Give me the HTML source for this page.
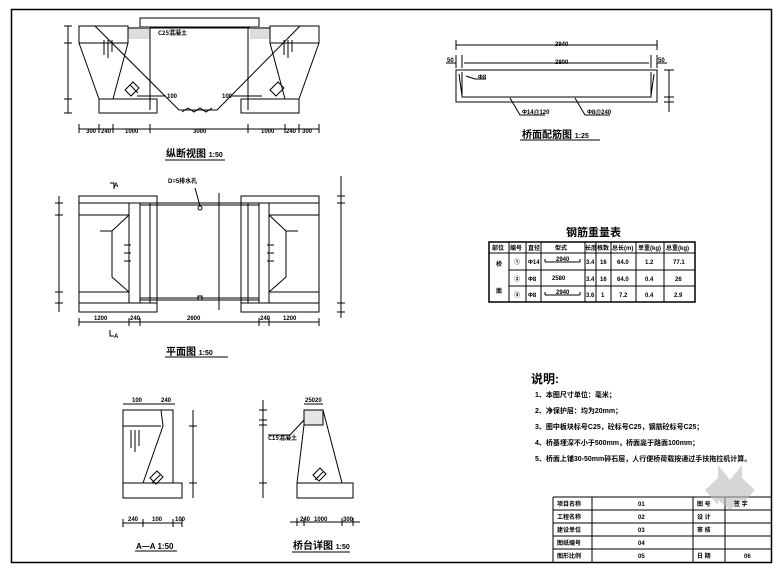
<!DOCTYPE html>
<html><head><meta charset="utf-8"><style>
html,body{margin:0;padding:0;background:#fff;}
svg{display:block;}
text{font-family:"Liberation Sans","Noto Sans CJK SC",sans-serif;font-weight:bold;fill:#000;}
.c{font-family:"Noto Sans CJK SC","WenQuanYi Zen Hei",sans-serif;}
</style></head><body>
<svg width="780" height="572" viewBox="0 0 780 572" xmlns="http://www.w3.org/2000/svg">
<g fill="none" stroke="#000" stroke-width="1">
<!-- frame -->
<rect x="11.5" y="9.5" width="760" height="553" stroke-width="1.5"/>

<!-- ===== Elevation ===== -->
<rect x="140" y="18" width="119" height="9"/>
<rect x="128" y="27" width="22" height="12" fill="#ddd" stroke="none"/>
<rect x="250" y="27" width="20" height="12" fill="#ddd" stroke="none"/>
<line x1="128" y1="28" x2="270" y2="28"/>
<path d="M79,26 H128 V43 H79 Z M79,43 L99,99 M128,43 L113,99 M99,99 H157 V113 H99 Z"/>
<line x1="150" y1="28" x2="150" y2="110"/>
<path d="M270,26 H319 V43 H270 Z M319,43 L299,99 M270,43 L285,99 M241,99 H299 V113 H241 Z"/>
<line x1="248" y1="28" x2="248" y2="110"/>
<path d="M95,26 L179,110 H217 L300,26"/>
<path d="M104,40 V55 M108,40 V58 M112,40 V52 M284,40 V55 M288,40 V58 M292,40 V52"/>
<path d="M182,112 l6,-4 l6,4 l6,-4 l6,4 l6,-4"/>
<path d="M125,90 l8,-8 l6,6 l-8,8z M130,85 l8,8 M270,90 l8,-8 l6,6 l-8,8z"/>
<line x1="137" y1="96" x2="166" y2="96"/>
<line x1="232" y1="96" x2="262" y2="96"/>
<line x1="68" y1="26" x2="68" y2="113"/>
<path d="M64,43 H72 M64,99 H72 M64,26 H72 M64,113 H72"/>
<line x1="79" y1="129" x2="319" y2="129"/>
<path d="M79,124 V133 M99,124 V133 M113,124 V133 M150,124 V133 M248,124 V133 M285,124 V133 M299,124 V133 M319,124 V133"/>
<line x1="165" y1="160" x2="225" y2="160"/>

<!-- ===== Plan ===== -->
<rect x="79" y="196" width="78" height="116"/>
<rect x="241" y="196" width="78" height="116"/>
<path d="M79,203 H157 M79,215 H129 M79,292 H129 M79,303 H157"/>
<path d="M241,203 H319 M269,215 H319 M269,292 H319 M241,303 H319"/>
<path d="M129,203 V303 M269,203 V303 M140,203 V303 M150,203 V303 M248,203 V303 M259,203 V303"/>
<path d="M140,203 H259 M140,300 H259 M140,205 H259 M140,298 H259"/>
<path d="M129,215 L112,231 V277 L129,292 M100,231 H112 M269,215 L286,231 V277 L269,292 M298,231 H286"/>
<path d="M124,245 H131 M124,253 H131 M124,261 H131 M267,245 H274 M267,253 H274 M267,261 H274"/>
<line x1="219" y1="193" x2="219" y2="310"/>
<rect x="198" y="296" width="4" height="4"/>
<circle cx="200" cy="208" r="2"/>
<line x1="200" y1="206" x2="195" y2="188"/>
<line x1="79" y1="322" x2="319" y2="322"/>
<path d="M79,318 V326 M129,318 V326 M140,318 V326 M259,318 V326 M269,318 V326 M319,318 V326"/>
<path d="M110,183 H114 V189 M110,330 V336 H114"/>
<line x1="59" y1="196" x2="59" y2="312"/>
<path d="M55,203 H63 M55,215 H63 M55,292 H63 M55,303 H63"/>
<line x1="341" y1="176" x2="341" y2="318"/>
<path d="M337,196 H345 M337,203 H345 M337,303 H345 M337,312 H345"/>
<line x1="165" y1="357" x2="228" y2="357"/>

<!-- ===== Deck detail ===== -->
<rect x="456" y="70" width="201" height="32"/>
<path d="M462,72 V97 H651 V72"/>
<path d="M459,74 L462,96 M654,74 L651,96"/>
<line x1="456" y1="45" x2="657" y2="45"/>
<path d="M456,40 V50 M657,40 V50"/>
<line x1="464" y1="63" x2="649" y2="63"/>
<line x1="446" y1="63" x2="456" y2="63"/>
<line x1="657" y1="63" x2="667" y2="63"/>
<path d="M456,55 V68 M462,55 V68 M651,55 V68 M657,55 V68"/>
<line x1="669" y1="70" x2="669" y2="112"/>
<path d="M664,70 H674 M664,97 H674 M664,102 H674"/>
<path d="M466,76 L475,79 H486 M510,98 L520,115 H545 M575,98 L585,115 H610"/>
<line x1="520" y1="140" x2="600" y2="140"/>

<!-- ===== Table ===== -->
<rect x="489" y="242" width="206" height="60" stroke-width="1.5"/>
<path d="M489,253 H695 M509,270 H695 M509,286 H695"/>
<path d="M509,242 V302 M526,242 V302 M541,242 V302 M585,242 V302 M596,242 V302 M611,242 V302 M636,242 V302 M664,242 V302"/>
<path d="M545,262 H580 M545,262 v-3 M580,262 v-3 M545,295 H580 M545,295 v-3 M580,295 v-3"/>

<!-- ===== A-A ===== -->
<path d="M123,410 H173 V483 H182 V498 H123 Z M123,426 H161 M161,410 L163,426 L143,483 M123,483 H173"/>
<path d="M131,430 V448 M135,430 V452 M139,430 V446"/>
<path d="M150,478 l7,-7 l6,6 l-7,7z M152,483 l8,-8"/>
<line x1="123" y1="404" x2="175" y2="404"/>
<line x1="193" y1="410" x2="193" y2="498"/>
<path d="M189,426 H197 M189,483 H197"/>
<line x1="123" y1="523" x2="182" y2="523"/>
<path d="M123,519 V527 M143,519 V527 M173,519 V527 M182,519 V527"/>
<line x1="135" y1="551" x2="177" y2="551"/>

<!-- ===== Abutment detail ===== -->
<rect x="304" y="410" width="19" height="15" fill="#e6e6e6"/>
<path d="M304,425 L297,483 M323,410 L342,483 M297,483 H353 V498 H297 Z"/>
<path d="M313,475 l7,-7 l6,6 l-7,7z M315,480 l8,-8"/>
<path d="M304,420 L290,435 H268"/>
<line x1="304" y1="404" x2="323" y2="404"/>
<line x1="263" y1="400" x2="263" y2="498"/>
<path d="M259,410 H267 M259,420 H267 M259,425 H267 M259,483 H267"/>
<line x1="290" y1="522" x2="360" y2="522"/>
<path d="M297,518 V526 M304,518 V526 M342,518 V526 M353,518 V526"/>
<line x1="292" y1="552" x2="350" y2="552"/>

<!-- ===== Title block ===== -->
<path d="M553,497 H771 M553,497 V563 M553,510 H771 M553,523 H771 M553,536 H771 M553,549 H771 M592,497 V563 M693,497 V563 M725,497 V563"/>
</g>

<!-- watermark -->
<g fill="#bbb" opacity="0.6">
<path d="M718,465 L730,480 L742,465 L742,500 L730,510 L718,500Z"/>
<path d="M705,490 L718,478 V505Z M755,490 L742,478 V505Z"/>
</g>

<!-- ===== Texts ===== -->
<g font-size="6">
<text x="86" y="133">300</text><text x="101" y="133">240</text><text x="125" y="133">1000</text>
<text x="193" y="133">3000</text><text x="261" y="133">1000</text><text x="286" y="133">240</text><text x="302" y="133">300</text>
<text x="167" y="98">100</text><text x="222" y="98">100</text>
<text x="158" y="35" class="c">C25混凝土</text>
<text x="94" y="320">1200</text><text x="130" y="320">240</text><text x="187" y="320">2600</text><text x="260" y="320">240</text><text x="283" y="320">1200</text>
<text x="168" y="183">D=5排水孔</text>
<text x="114" y="187">A</text><text x="114" y="338">A</text>
<text x="555" y="46">2940</text><text x="555" y="64">2800</text>
<text x="447" y="62">50</text><text x="658" y="62">50</text>
<text x="478" y="79">Φ8</text><text x="522" y="114">Φ14@120</text><text x="587" y="114">Φ8@240</text>
<text x="132" y="402">100</text><text x="161" y="402">240</text>
<text x="128" y="521">240</text><text x="152" y="521">100</text><text x="175" y="521">100</text>
<text x="305" y="402">25020</text>
<text x="268" y="440" class="c">C15混凝土</text>
<text x="300" y="521">240</text><text x="314" y="521">1000</text><text x="343" y="521">300</text>
</g>
<g font-size="6" class="c">
<text x="492" y="250">部位</text><text x="510" y="250">编号</text><text x="528" y="250">直径</text><text x="555" y="250">型式</text>
<text x="585" y="250">长度</text><text x="597" y="250">根数</text><text x="612" y="250">总长(m)</text><text x="638" y="250">单重(kg)</text><text x="666" y="250">总重(kg)</text>
<text x="496" y="266">桥</text><text x="496" y="293">面</text>
<text x="514" y="264">①</text><text x="514" y="281">②</text><text x="514" y="297">③</text>
<text x="528" y="264">Φ14</text><text x="528" y="281">Φ8</text><text x="528" y="297">Φ8</text>
<text x="556" y="261">2940</text><text x="552" y="280">2580</text><text x="556" y="294">2940</text>
<text x="586" y="264">3.4</text><text x="586" y="281">3.4</text><text x="586" y="297">3.6</text>
<text x="600" y="264">16</text><text x="600" y="281">16</text><text x="601" y="297">1</text>
<text x="617" y="264">64.0</text><text x="617" y="281">64.0</text><text x="619" y="297">7.2</text>
<text x="645" y="264">1.2</text><text x="645" y="281">0.4</text><text x="645" y="297">0.4</text>
<text x="673" y="264">77.1</text><text x="675" y="281">26</text><text x="674" y="297">2.9</text>
<text x="557" y="506">项目名称</text><text x="638" y="506">01</text><text x="697" y="506">图 号</text><text x="734" y="506">签 字</text>
<text x="557" y="519">工程名称</text><text x="638" y="519">02</text><text x="697" y="519">设 计</text>
<text x="557" y="532">建设单位</text><text x="638" y="532">03</text><text x="697" y="532">审 核</text>
<text x="557" y="545">图纸编号</text><text x="638" y="545">04</text>
<text x="557" y="558">图形比例</text><text x="638" y="558">05</text><text x="697" y="558">日 期</text><text x="744" y="558">06</text>
</g>
<g class="c">
<text x="166" y="157" font-size="10">纵断视图 <tspan font-size="7">1:50</tspan></text>
<text x="166" y="355" font-size="10">平面图 <tspan font-size="7">1:50</tspan></text>
<text x="522" y="138" font-size="10">桥面配筋图 <tspan font-size="7">1:25</tspan></text>
<text x="566" y="236" font-size="11">钢筋重量表</text>
<text x="136" y="549" font-size="8">A—A 1:50</text>
<text x="293" y="549" font-size="10">桥台详图 <tspan font-size="7">1:50</tspan></text>
<text x="531" y="383" font-size="12">说明:</text>
<text x="535" y="397" font-size="7">1、本图尺寸单位：毫米；</text>
<text x="535" y="413" font-size="7">2、净保护层：均为20mm；</text>
<text x="535" y="429" font-size="7">3、图中板块标号C25，砼标号C25，钢筋砼标号C25；</text>
<text x="535" y="445" font-size="7">4、桥基埋深不小于500mm，桥面高于路面100mm；</text>
<text x="535" y="461" font-size="7">5、桥面上铺30-50mm碎石层，人行便桥荷载按通过手扶拖拉机计算。</text>
</g>
</svg>
</body></html>
